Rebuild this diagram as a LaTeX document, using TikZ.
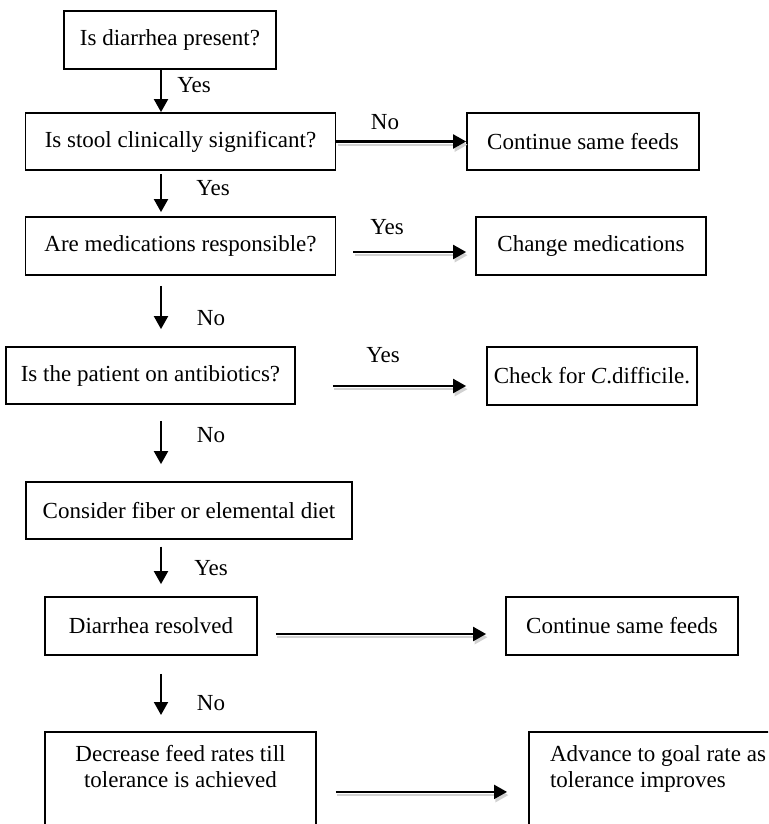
\documentclass[tikz,border=0pt]{standalone}
\usepackage{fontspec}
\setmainfont{Liberation Serif}
\usetikzlibrary{arrows.meta, calc}

\begin{document}
\begin{tikzpicture}[x=0.5pt, y=-0.5pt,
    box/.style={draw, line width=0.9pt, inner sep=0pt, font=\fontsize{11.5}{13}\selectfont},
    lbl/.style={font=\fontsize{11.5}{13}\selectfont, inner sep=0pt},
    vline/.style={line width=1pt, -{Triangle[length=6.5pt, width=7pt]}},
    hline/.style={line width=1.1pt, -{Triangle[length=6.5pt, width=7pt]},
        preaction={draw=black!18, line width=1.2pt, -{Triangle[length=6.5pt, width=7pt]},
            transform canvas={shift={(0.7pt,-1.6pt)}}}}]
            \useasboundingbox (0,0) rectangle (768,824);
            \clip (0,0) rectangle (768,824);
            \coordinate (spine) at (161,0);

            % left column
            \node[box, minimum width=106pt, minimum height=29pt] (q1) at (170,40) {Is diarrhea present?};
            \node[box, minimum width=155pt, minimum height=28.5pt] (q2) at (180.5,141.5) {Is stool clinically significant?};
            \node[box, minimum width=155pt, minimum height=29pt] (q3) at (180.5,246) {Are medications responsible?};
            \node[box, minimum width=144.5pt, minimum height=28.5pt] (q4) at (150.5,375.5) {Is the patient on antibiotics?};
            \node[box, minimum width=163pt, minimum height=28.5pt] (q5) at (189,510.5) {Consider fiber or elemental diet};
            \node[box, minimum width=106pt, minimum height=29pt] (q6) at (151,626) {Diarrhea resolved};
            \node[box, anchor=north, minimum width=135.5pt, minimum height=60pt,
                label={[anchor=north, yshift=-3.5pt, align=center, font=\fontsize{11.5}{13}\selectfont]north:Decrease feed rates till\\tolerance is achieved}] (q7) at (180.5,731) {};

            % right column
            \node[box, minimum width=116pt, minimum height=28.5pt] (r1) at (583,141.5) {Continue same feeds};
            \node[box, minimum width=115pt, minimum height=29pt] (r2) at (591,246) {Change medications};
            \node[box, minimum width=105pt, minimum height=29pt] (r3) at (592,376) {Check for \textit{C}.difficile.};
            \node[box, minimum width=116pt, minimum height=29pt] (r4) at (622,626) {Continue same feeds};
            \node[box, anchor=north west, minimum width=141pt, minimum height=60pt,
                label={[anchor=north west, xshift=7.5pt, yshift=-3.5pt, align=left, font=\fontsize{11.5}{13}\selectfont]north west:Advance to goal rate as\\tolerance improves}] (r5) at (528,731) {};

            % downward arrows
            \draw[vline] (q1.south -| spine) -- (q2.north -| spine);
            \draw[vline, shorten <=1.5pt, shorten >=2pt] (q2.south -| spine) -- (q3.north -| spine);
            \draw[vline, shorten <=5pt, shorten >=8.5pt] (q3.south -| spine) -- (q4.north -| spine);
            \draw[vline, shorten <=8pt, shorten >=8.5pt] (q4.south -| spine) -- (q5.north -| spine);
            \draw[vline, shorten <=3.3pt, shorten >=6pt] (q5.south -| spine) -- (q6.north -| spine);
            \draw[vline, shorten <=9pt, shorten >=8pt] (q6.south -| spine) -- (q7.north -| spine);

            \node[lbl] (y1) at (194,85) {Yes};
            \node[lbl] (y2) at (213,188) {Yes};
            \node[lbl] (n2) at (211,318) {No};
            \node[lbl] (n3) at (211,435) {No};
            \node[lbl] (y5) at (211,568) {Yes};
            \node[lbl] (n4) at (211,703) {No};

            % side arrows
            \draw[hline] (q2.east) -- (r1.west);
            \draw[hline] ($(q3.east)+(17,6)$) -- ($(r2.west)+(-9,6)$);
            \draw[hline] ($(q4.east)+(37,10.5)$) -- ($(r3.west)+(-20,10)$);
            \draw[hline] ($(q6.east)+(18,8)$) -- ($(r4.west)+(-19,8)$);
            \draw[hline] ($(q7.east)+(19,0)$) -- ($(r5.west)+(-21,0)$);

            \node[lbl] (n1) at (385,122) {No};
            \node[lbl] (y3) at (387,227) {Yes};
            \node[lbl] (y4) at (383,355) {Yes};
        \end{tikzpicture}
\end{document}
